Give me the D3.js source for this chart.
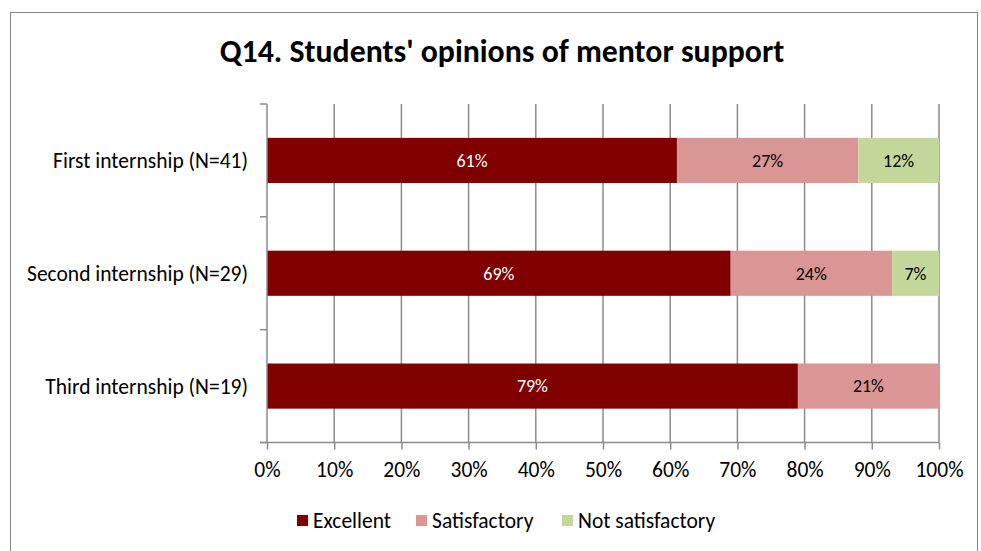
<!DOCTYPE html>
<html>
<head>
<meta charset="utf-8">
<script src="https://cdn.jsdelivr.net/npm/d3@7"></script>
<style>
  body { margin: 0; background: #fff; }
  text { font-family: Carlito, "Open Sans", "Liberation Sans", sans-serif; }
</style>
</head>
<body>
<svg width="981" height="551"></svg>
<script>
const categories = ['First internship (N=41)', 'Second internship (N=29)', 'Third internship (N=19)'];
const seriesNames = ['Excellent', 'Satisfactory', 'Not satisfactory'];
const excellent = [61, 69, 79];
const satisfactory = [27, 24, 21];
const notSatisfactory = [12, 7, 0];
const xTicks = [0, 10, 20, 30, 40, 50, 60, 70, 80, 90, 100];
const colors = ['#800000', '#da9694', '#c4d79b'];

const svg = d3.select('svg');
const fontSize = 21.5;

// chart frame
svg.append('rect')
  .attr('x', 10.5).attr('y', 12.5)
  .attr('width', 967).attr('height', 560)
  .attr('fill', '#fff').attr('stroke', '#868686').attr('stroke-width', 1);

svg.append('text')
  .attr('x', 502).attr('y', 62)
  .attr('text-anchor', 'middle')
  .attr('font-size', 31.8).attr('font-weight', 'bold')
  .attr('fill', '#000')
  .text("Q14. Students' opinions of mentor support");

const plotLeft = 267, plotRight = 939, plotTop = 104, plotBottom = 442.5;

const x = d3.scaleLinear().domain([0, 100]).range([plotLeft, plotRight]);
const y = d3.scaleBand().domain(categories).range([plotTop, plotBottom]).paddingInner(0.6).paddingOuter(0.3);

const rows = categories.map((c, i) => ({
  cat: c,
  Excellent: excellent[i],
  Satisfactory: satisfactory[i],
  'Not satisfactory': notSatisfactory[i]
}));
const stacked = d3.stack().keys(seriesNames)(rows);

// gridlines
svg.append('g')
  .selectAll('line')
  .data(xTicks.slice(1))
  .join('line')
  .attr('x1', d => x(d)).attr('x2', d => x(d))
  .attr('y1', plotTop).attr('y2', plotBottom)
  .attr('stroke', '#8c8c8c').attr('stroke-width', 1.5);

// bars
const layers = svg.append('g')
  .selectAll('g')
  .data(stacked)
  .join('g')
  .attr('fill', (d, i) => colors[i]);

layers.selectAll('rect')
  .data(d => d.filter(p => p[1] > p[0]))
  .join('rect')
  .attr('x', d => x(d[0]))
  .attr('width', d => x(d[1]) - x(d[0]))
  .attr('y', d => y(d.data.cat))
  .attr('height', y.bandwidth());

layers.each(function(layer, i) {
  d3.select(this).selectAll('text')
    .data(layer.filter(p => p[1] > p[0]))
    .join('text')
    .attr('x', d => (x(d[0]) + x(d[1])) / 2)
    .attr('y', d => y(d.data.cat) + y.bandwidth() / 2)
    .attr('dy', '0.35em')
    .attr('text-anchor', 'middle')
    .attr('font-size', 18)
    .attr('fill', i === 0 ? '#fff' : '#000')
    .text(d => (d[1] - d[0]) + '%');
});

// y axis
const yAxis = svg.append('g')
  .attr('transform', `translate(${plotLeft},0)`);
yAxis.append('line')
  .attr('x1', 0).attr('x2', 0).attr('y1', plotTop).attr('y2', plotBottom)
  .attr('stroke', '#8c8c8c').attr('stroke-width', 1.5);
const yTickPos = d3.range(categories.length + 1).map(i => plotTop + i * (plotBottom - plotTop) / categories.length);
yAxis.selectAll('line.tick')
  .data(yTickPos)
  .join('line')
  .attr('class', 'tick')
  .attr('x1', -7).attr('x2', 0)
  .attr('y1', d => d).attr('y2', d => d)
  .attr('stroke', '#8c8c8c').attr('stroke-width', 1.5);
yAxis.selectAll('text')
  .data(categories)
  .join('text')
  .attr('x', -19)
  .attr('y', d => y(d) + y.bandwidth() / 2)
  .attr('dy', '0.35em')
  .attr('text-anchor', 'end')
  .attr('font-size', fontSize)
  .attr('fill', '#000')
  .text(d => d);

// x axis
const xAxis = svg.append('g')
  .attr('transform', `translate(0,${plotBottom})`)
  .call(d3.axisBottom(x).tickValues(xTicks).tickSize(7).tickSizeOuter(0).tickFormat(d => d + '%'));
xAxis.select('.domain').attr('stroke', '#8c8c8c').attr('stroke-width', 1.5)
  .attr('d', `M${plotLeft - 7},0H${plotRight}`);
xAxis.selectAll('.tick line').attr('stroke', '#8c8c8c').attr('stroke-width', 1.5);
xAxis.selectAll('.tick text')
  .attr('font-size', fontSize).attr('fill', '#000').attr('y', 19)
  .attr('font-family', 'Carlito, "Open Sans", "Liberation Sans", sans-serif');

// legend
const legendX = [297, 416, 562];
const legend = svg.append('g')
  .selectAll('g')
  .data(seriesNames)
  .join('g')
  .attr('transform', (d, i) => `translate(${legendX[i]},520)`);
legend.append('rect')
  .attr('x', 0).attr('y', -5).attr('width', 11).attr('height', 11)
  .attr('fill', (d, i) => colors[i]);
legend.append('text')
  .attr('x', 16).attr('dy', '0.35em')
  .attr('font-size', fontSize).attr('fill', '#000')
  .text(d => d);
</script>
</body>
</html>
